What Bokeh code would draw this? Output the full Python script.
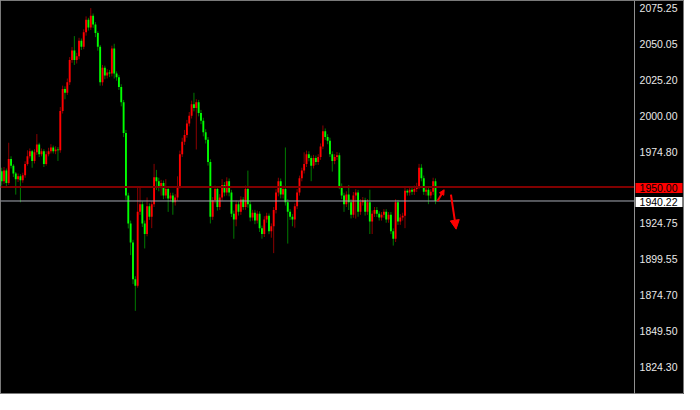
from bokeh.plotting import figure
from bokeh.models import Label, Arrow, NormalHead, FixedTicker, PrintfTickFormatter, ColumnDataSource, Range1d
from bokeh.embed import file_html
from bokeh.resources import INLINE

first_open = 1961.0
close = [
    1954.1, 1961.5, 1952.8, 1969.6, 1964.9, 1959.5, 1955.5, 1957.5, 1954.8, 1958.2,
    1966.2, 1971.6, 1975.0, 1968.3, 1974.3, 1979.7, 1973.0, 1975.0, 1966.2, 1973.0,
    1975.0, 1977.7, 1975.0, 1976.3, 1975.7, 2003.2, 2018.7, 2016.0, 2023.4, 2038.9,
    2045.6, 2038.9, 2041.6, 2052.4, 2048.3, 2058.4, 2067.2, 2061.8, 2069.9, 2063.8,
    2057.8, 2048.3, 2023.4, 2033.5, 2028.1, 2030.2, 2029.5, 2047.0, 2029.5, 2026.8,
    2020.1, 2009.3, 1987.8, 1944.0, 1924.5, 1911.1, 1885.5, 1880.8, 1932.6, 1938.0,
    1924.5, 1917.1, 1936.6, 1929.2, 1938.0, 1956.8, 1954.1, 1949.4, 1952.8, 1944.0,
    1948.7, 1942.0, 1944.0, 1939.3, 1942.7, 1950.8, 1973.0, 1981.7, 1986.4, 1994.5,
    1999.9, 2008.0, 2005.3, 2009.3, 2001.9, 1996.5, 1988.4, 1983.1, 1967.6, 1929.2,
    1940.7, 1948.7, 1936.0, 1942.7, 1951.4, 1946.1, 1954.1, 1946.1, 1931.3, 1927.2,
    1938.0, 1932.6, 1941.3, 1936.0, 1948.7, 1938.0, 1928.6, 1931.9, 1926.5, 1931.3,
    1921.2, 1917.1, 1927.2, 1929.9, 1919.1, 1922.5, 1933.9, 1946.1, 1954.1, 1944.7,
    1948.7, 1939.3, 1932.6, 1929.2, 1927.2, 1936.6, 1946.1, 1956.1, 1961.5, 1966.2,
    1973.0, 1970.3, 1964.9, 1970.3, 1967.6, 1971.0, 1978.3, 1989.1, 1985.1, 1982.4,
    1973.0, 1968.3, 1971.0, 1972.3, 1950.8, 1944.0, 1938.0, 1944.7, 1939.3, 1930.6,
    1944.0, 1946.1, 1932.6, 1939.3, 1940.7, 1932.6, 1939.3, 1925.9, 1931.3, 1933.9,
    1931.3, 1928.6, 1930.6, 1932.6, 1927.2, 1930.6, 1919.1, 1913.8, 1939.3, 1925.9,
    1928.6, 1929.9, 1947.4, 1946.1, 1948.1, 1946.7, 1948.7, 1950.8, 1963.5, 1956.1,
    1946.7, 1948.1, 1944.0, 1946.7, 1954.1, 1940.22,
]
high = [
    1963.5, 1964.0, 1963.0, 1981.0, 1971.5, 1966.0, 1960.5, 1959.5, 1959.0, 1960.0,
    1968.0, 1975.7, 1977.0, 1976.0, 1976.5, 1987.1, 1981.0, 1977.0, 1976.5, 1975.0,
    1977.5, 1980.0, 1979.0, 1978.5, 1978.0, 2006.0, 2021.0, 2020.5, 2026.0, 2041.0,
    2048.0, 2055.7, 2044.0, 2054.5, 2054.0, 2060.5, 2069.5, 2068.5, 2075.3, 2071.5,
    2065.5, 2059.0, 2049.5, 2035.5, 2035.0, 2032.5, 2032.0, 2049.0, 2050.3, 2031.0,
    2028.5, 2022.0, 2011.0, 1990.0, 1946.0, 1926.5, 1913.0, 1887.5, 1949.4, 1949.4,
    1940.0, 1926.5, 1942.7, 1938.5, 1940.0, 1966.2, 1962.0, 1956.5, 1955.0, 1954.5,
    1955.5, 1950.5, 1946.0, 1946.0, 1945.0, 1957.5, 1975.5, 1984.5, 1990.0, 1997.0,
    2002.5, 2010.5, 2016.0, 2011.5, 2011.0, 2004.0, 1998.5, 1990.5, 1985.0, 1969.5,
    1943.0, 1951.0, 1950.5, 1945.0, 1955.5, 1953.5, 1956.8, 1956.0, 1948.0, 1933.5,
    1940.5, 1940.0, 1943.5, 1943.0, 1951.0, 1961.5, 1940.0, 1934.0, 1934.0, 1933.5,
    1933.0, 1923.0, 1929.5, 1932.0, 1931.5, 1924.5, 1936.0, 1948.5, 1956.5, 1956.0,
    1951.0, 1977.7, 1941.5, 1934.5, 1931.0, 1938.5, 1948.5, 1958.0, 1963.5, 1974.3,
    1975.5, 1975.0, 1972.0, 1972.5, 1972.0, 1973.0, 1980.5, 1993.1, 1991.0, 1987.0,
    1984.5, 1975.0, 1973.0, 1974.5, 1974.0, 1952.5, 1946.0, 1947.0, 1951.4, 1941.5,
    1946.5, 1948.5, 1948.0, 1941.5, 1943.0, 1942.5, 1941.5, 1948.1, 1933.5, 1936.0,
    1936.0, 1933.0, 1932.5, 1934.5, 1934.5, 1932.5, 1932.5, 1921.0, 1941.5, 1941.0,
    1931.0, 1932.0, 1949.5, 1948.5, 1950.0, 1950.0, 1951.0, 1953.0, 1966.2, 1966.0,
    1958.0, 1950.0, 1950.0, 1948.5, 1956.5, 1956.0,
]
low = [
    1951.0, 1952.0, 1950.5, 1951.5, 1963.0, 1957.0, 1944.7, 1953.5, 1939.3, 1953.0,
    1956.5, 1965.0, 1970.0, 1963.5, 1966.5, 1972.5, 1971.0, 1971.5, 1964.0, 1965.0,
    1971.5, 1973.5, 1973.5, 1973.0, 1968.3, 1974.0, 2001.5, 2011.5, 2014.5, 2021.5,
    2037.0, 2035.5, 2036.5, 2039.5, 2046.0, 2046.5, 2056.0, 2059.5, 2060.0, 2061.5,
    2055.0, 2045.5, 2021.0, 2021.0, 2025.5, 2026.0, 2027.0, 2027.5, 2026.0, 2024.5,
    2018.0, 2006.5, 1985.0, 1941.0, 1921.0, 1902.3, 1882.0, 1863.3, 1879.5, 1930.5,
    1922.0, 1907.0, 1915.5, 1927.0, 1921.2, 1936.0, 1948.0, 1947.0, 1944.0, 1941.5,
    1942.0, 1932.6, 1940.0, 1930.6, 1937.0, 1940.5, 1949.0, 1971.0, 1979.5, 1984.5,
    1992.5, 1998.0, 2003.0, 1976.3, 1999.5, 1994.0, 1985.5, 1980.5, 1965.0, 1924.5,
    1927.0, 1938.5, 1933.5, 1934.0, 1940.5, 1943.5, 1944.0, 1943.5, 1929.0, 1913.8,
    1922.5, 1930.0, 1930.5, 1934.0, 1934.0, 1935.5, 1926.0, 1926.5, 1924.0, 1924.5,
    1918.5, 1913.8, 1915.0, 1925.0, 1917.0, 1914.5, 1903.7, 1931.5, 1943.5, 1942.0,
    1942.0, 1937.0, 1910.4, 1927.0, 1922.5, 1921.5, 1934.5, 1944.0, 1954.0, 1959.5,
    1964.0, 1968.0, 1954.1, 1963.0, 1965.5, 1965.5, 1969.0, 1976.5, 1983.0, 1980.0,
    1971.0, 1960.8, 1966.0, 1969.0, 1948.5, 1941.5, 1932.6, 1936.0, 1933.9, 1928.0,
    1928.5, 1927.9, 1929.2, 1930.5, 1937.0, 1930.0, 1930.5, 1917.1, 1917.1, 1929.0,
    1929.0, 1926.5, 1926.5, 1928.5, 1925.0, 1925.0, 1917.0, 1909.0, 1911.5, 1923.5,
    1923.5, 1926.5, 1921.2, 1944.0, 1944.0, 1944.5, 1944.5, 1946.5, 1948.5, 1954.0,
    1944.5, 1944.0, 1938.0, 1942.0, 1944.5, 1938.0,
]
axis_ticks = [2075.25, 2050.05, 2025.20, 2000.00, 1974.80, 1924.75, 1899.55, 1874.70, 1849.50, 1824.30]
level_price = 1950.00
bid_price = 1940.22
# arrow annotations: (bar position, price)
small_arrow = [(185.8, 1940.0), (188.7, 1948.1)]
big_arrow = [(191.6, 1944.7), (193.8, 1920.5)]

n = len(close)
opens = [first_open] + close[:-1]
idx = list(range(n))
up = [c >= o for o, c in zip(opens, close)]
top = [max(o, c) for o, c in zip(opens, close)]
bot = [min(o, c) for o, c in zip(opens, close)]
hi = [max(h, t) for h, t in zip(high, top)]
lo = [min(l, b) for l, b in zip(low, bot)]

src = ColumnDataSource(dict(
    x=idx, top=top, bot=bot, hi=hi, lo=lo,
    body=["#ff0000" if u else "#00ff00" for u in up],
    wick=["#8b0000" if u else "#007a00" for u in up],
))

XR = (-0.5, 291.2)
AXIS_X = 269.9          # bar position where the price scale sits
YR = (1804.7, 2080.63)
FONT = "Liberation Sans"

p = figure(width=684, height=394, output_backend="svg", toolbar_location=None,
           x_range=Range1d(*XR), y_range=Range1d(*YR),
           x_axis_location=None, y_axis_location="right",
           min_border_left=0, min_border_top=0, min_border_bottom=0, min_border_right=0)
p.background_fill_color = "#000000"
p.border_fill_color = "#000000"
p.outline_line_color = "#7a7a7a"
p.grid.visible = False

p.segment(x0="x", y0="lo", x1="x", y1="hi", color="wick", line_width=1, source=src)
p.vbar(x="x", width=0.8, top="top", bottom="bot", fill_color="body", line_color=None, source=src)

p.segment(x0=[XR[0]], y0=[level_price], x1=[AXIS_X], y1=[level_price], line_color="#800000", line_width=2)
p.segment(x0=[XR[0]], y0=[bid_price], x1=[AXIS_X], y1=[bid_price], line_color="#a7abb5", line_width=1)

ax = p.yaxis[0]
ax.fixed_location = AXIS_X
ax.ticker = FixedTicker(ticks=axis_ticks)
ax.formatter = PrintfTickFormatter(format="%.2f")
ax.axis_line_color = "#909090"
ax.major_tick_out = 0
ax.major_tick_in = 0
ax.minor_tick_out = 0
ax.minor_tick_in = 0
ax.major_label_standoff = 5
ax.major_label_text_color = "#e8e8e8"
ax.major_label_text_font = FONT
ax.major_label_text_font_size = "10.5px"

for price, bg in [(level_price, "#ff0000"), (bid_price, "#ffffff")]:
    p.add_layout(Label(x=AXIS_X, y=price, x_offset=1, y_offset=-1, text="%.2f" % price,
                       text_font=FONT, text_font_size="10.5px", text_color="#000000",
                       text_baseline="middle", text_align="left",
                       background_fill_color=bg, padding=dict(left=4, right=5, top=1, bottom=1)))

for pts, size in [(small_arrow, 5), (big_arrow, 9)]:
    (xs, ys), (xe, ye) = pts
    p.add_layout(Arrow(x_start=xs, y_start=ys, x_end=xe, y_end=ye, line_color="#ff0000", line_width=2,
                       end=NormalHead(size=size, fill_color="#ff0000", line_color="#ff0000")))

open("out.html", "w").write(file_html(p, INLINE))
